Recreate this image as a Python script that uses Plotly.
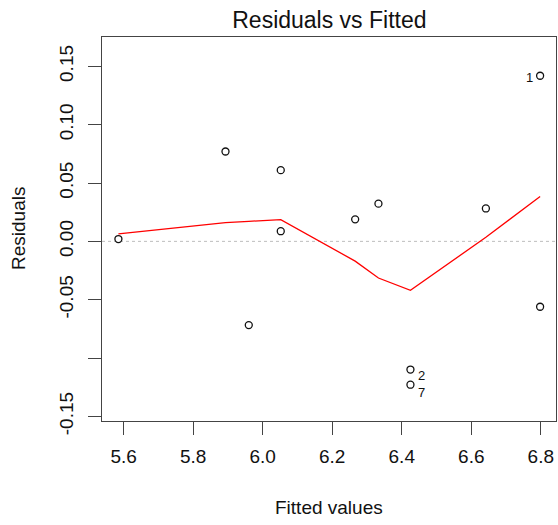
import plotly.graph_objects as go

# Data
fitted = [5.585, 5.893, 5.960, 6.052, 6.052, 6.266, 6.333, 6.425, 6.425, 6.642, 6.798, 6.798]
residuals = [0.002, 0.077, -0.0717, 0.061, 0.0087, 0.0189, 0.0323, -0.1098, -0.1228, 0.0282, 0.1419, -0.056]
point_ids = ["", "", "", "", "", "", "", "2", "7", "", "1", ""]

smooth_x = [5.585, 5.893, 5.960, 6.052, 6.266, 6.333, 6.425, 6.642, 6.798]
smooth_y = [0.0064, 0.0160, 0.0172, 0.0186, -0.0169, -0.0314, -0.0419, 0.0035, 0.0384]

x_ticks = [5.6, 5.8, 6.0, 6.2, 6.4, 6.6, 6.8]
y_ticks = [-0.15, -0.10, -0.05, 0.00, 0.05, 0.10, 0.15]
y_ticktext = ["-0.15", "", "-0.05", "0.00", "0.05", "0.10", "0.15"]

x_range = [5.5378, 6.8437]
y_range = [-0.1539, 0.1751]

FONT = "Liberation Sans, Arial, sans-serif"
AXIS_COLOR = "#444444"

W, H = 558, 525

fig = go.Figure()

# zero reference line
fig.add_trace(go.Scatter(
    x=x_range, y=[0, 0], mode="lines",
    line=dict(color="#bdbdbd", width=1, dash="dot"),
    hoverinfo="skip", showlegend=False,
))

fig.add_trace(go.Scatter(
    x=fitted, y=residuals, mode="markers",
    marker=dict(symbol="circle-open", size=7, color="#111111", line=dict(width=1.3, color="#111111")),
    showlegend=False,
))

fig.add_trace(go.Scatter(
    x=smooth_x, y=smooth_y, mode="lines",
    line=dict(color="#ff0000", width=1.3),
    showlegend=False,
))

# point id labels
label_offsets = {"1": (-5, -2, "right"), "2": (6, -6, "left"), "7": (6, -8, "left")}
for xv, yv, lab in zip(fitted, residuals, point_ids):
    if not lab:
        continue
    xs, ys, xa = label_offsets[lab]
    fig.add_annotation(
        x=xv, y=yv, text=lab, showarrow=False,
        xanchor=xa, yanchor="middle", xshift=xs, yshift=ys,
        font=dict(family=FONT, size=13, color="#111111"),
    )

# axis titles
fig.add_annotation(
    x=0.5, y=0, xref="paper", yref="paper", text="Fitted values",
    showarrow=False, xanchor="center", yanchor="middle", yshift=-86,
    font=dict(family=FONT, size=19, color="#111111"),
)
fig.add_annotation(
    x=0, y=0.5, xref="paper", yref="paper", text="Residuals",
    showarrow=False, xanchor="center", yanchor="middle", xshift=-84, textangle=-90,
    font=dict(family=FONT, size=19, color="#111111"),
)

fig.update_layout(
    width=W, height=H,
    margin=dict(l=102, r=2, t=37, b=104),
    paper_bgcolor="white", plot_bgcolor="white",
    font=dict(family=FONT, size=19, color="#111111"),
    title=dict(
        text="Residuals vs Fitted", x=329.4 / W, xanchor="center",
        y=1 - 20 / H, yanchor="middle", yref="container",
        font=dict(family=FONT, size=23, color="#111111"),
    ),
    showlegend=False,
)

fig.update_xaxes(
    range=x_range, tickvals=x_ticks, ticktext=[f"{v:.1f}" for v in x_ticks],
    showgrid=False, zeroline=False, showline=True, mirror=True,
    linecolor=AXIS_COLOR, linewidth=1.3,
    ticks="outside", ticklen=13, tickwidth=1.3, tickcolor=AXIS_COLOR,
    ticklabelstandoff=5,
    tickfont=dict(family=FONT, size=19, color="#111111"),
)
fig.update_yaxes(
    range=y_range, tickvals=y_ticks, ticktext=y_ticktext,
    showgrid=False, zeroline=False, showline=True, mirror=True,
    linecolor=AXIS_COLOR, linewidth=1.3,
    ticks="outside", ticklen=13, tickwidth=1.3, tickcolor=AXIS_COLOR,
    tickangle=-90, ticklabelstandoff=7,
    tickfont=dict(family=FONT, size=19, color="#111111"),
)

fig.write_html(
    "out.html",
    config={"displayModeBar": False},
    post_script="document.body.style.margin='0';document.body.style.overflow='hidden';",
)
